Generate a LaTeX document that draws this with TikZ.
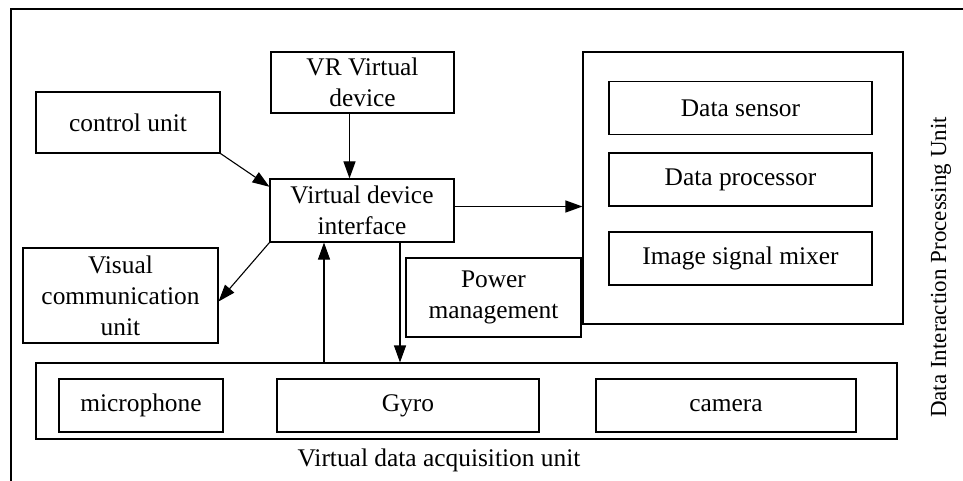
\documentclass[tikz,border=0pt]{standalone}
\usepackage{fontspec}
\setmainfont{Liberation Serif}
\usetikzlibrary{
	positioning				% Allows relative placement
	, arrows.meta			% Allows Triangle style arrow tips.
	, calc					% Allows coordinate calculations
}

\begin{document}
\begin{tikzpicture}[
		x=1pt, y=-1pt
		, unit/.style={draw, line width=1.1pt, inner sep=0pt, align=center,
			font=\fontsize{25.4}{31}\selectfont}
		, caption/.style={inner sep=0pt, font=\fontsize{25.4}{31}\selectfont}
		, flow/.style={-{Triangle[length=17pt,width=12pt]}, line width=1.1pt}
	]
	\useasboundingbox (0,0) rectangle (963,481);

	% Draw the open outer frame
	\coordinate (corner) at (11,9);
	\draw[line width=1.1pt] (963,9) -- (corner) -- (11,481);

	% Draw the units around the interface
	\node[unit, minimum width=184pt, minimum height=61pt] (control) at (128,122.5) {control unit};
	\node[unit, minimum width=183pt, minimum height=61pt] (vr) at (362.5,82.5) {VR Virtual\\device};
	\node[unit, minimum width=184pt, minimum height=63pt] (interface) at (362,210.5) {Virtual device\\interface};
	\node[unit, minimum width=195pt, minimum height=95pt] (visual) at (120.5,295.5) {Visual\\communication\\unit};
	\node[unit, minimum width=175pt, minimum height=79pt] (power) at (493.5,297.5) {Power\\management};

	% Draw the data interaction processing unit and its parts
	\node[unit, minimum width=320pt, minimum height=272pt] (processing) at (743,188) {};
	\foreach \y/\part/\label in {108/sensor/Data sensor, 179.5/processor/Data processor, 258.5/mixer/Image signal mixer} {
		\node[unit, minimum width=263pt, minimum height=53pt] (\part) at (740.5,\y) {\label};
	};
	\node[caption, rotate=90] (processinglabel) at (941,267.5) {\fontsize{23}{28}\selectfont Data Interaction Processing Unit};

	% Draw the virtual data acquisition unit and its parts
	\node[unit, minimum width=861pt, minimum height=76pt] (acquisition) at (466.5,401) {};
	\foreach \x/\w/\part/\label in {141/164/microphone/microphone, 408/262/gyro/Gyro, 726/260/camera/camera} {
		\node[unit, minimum width=\w pt, minimum height=53pt] (\part) at (\x,405.5) {\label};
	};
	\node[caption] (acquisitionlabel) at (439,460) {Virtual data acquisition unit};

	% Draw the connections to and from the interface
	\draw[flow] (control.south east) -- ($(interface.north west)!0.13!(interface.south west)$);
	\draw[flow] ([xshift=-13pt]vr.south) -- ([xshift=-13pt]vr.south |- interface.north);
	\draw[flow] (interface.south west) -- ([yshift=-6pt]visual.east);
	\draw[flow] ([yshift=4pt]interface.east) -- ([yshift=4pt]interface.east -| processing.west);
	\draw[flow] ([xshift=-38pt]interface.south |- acquisition.north) -- ([xshift=-38pt]interface.south);
	\draw[flow] ([xshift=38pt]interface.south) -- ([xshift=38pt]interface.south |- acquisition.north);
\end{tikzpicture}
\end{document}
